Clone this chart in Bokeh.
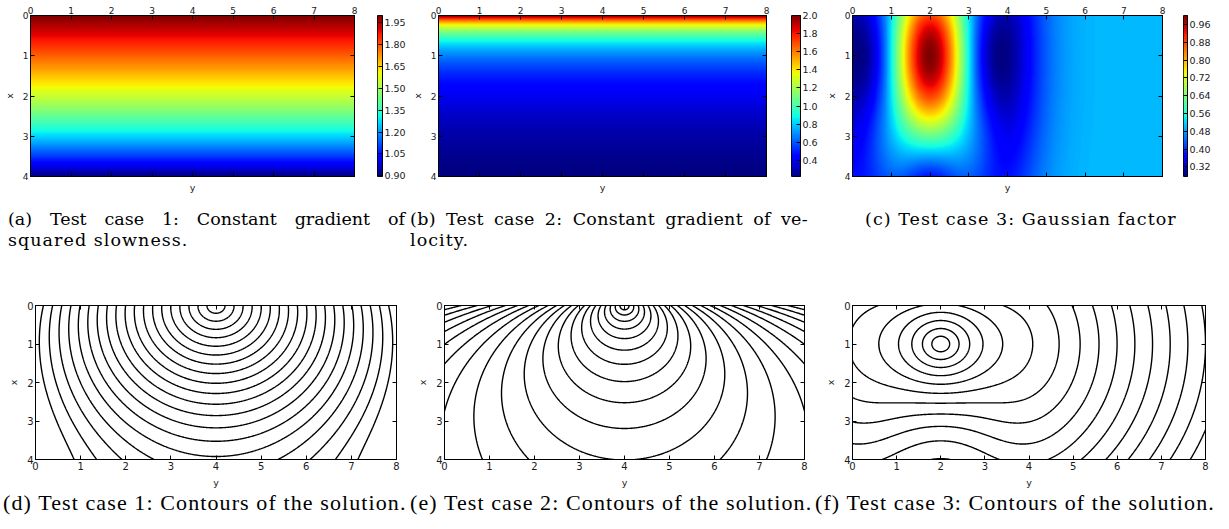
import numpy as np
from bokeh.plotting import figure
from bokeh.models import (Range1d, LinearAxis, FixedTicker, LinearColorMapper,
                          PrintfTickFormatter, Div, CustomLabelingPolicy)
from bokeh.layouts import column, row
from bokeh.embed import file_html
from bokeh.resources import INLINE

# ---------------- data ----------------
depth_extent = [0.0, 4.0]      # vertical axis, labelled "x"
lateral_extent = [0.0, 8.0]    # horizontal axis, labelled "y"
depth_ticks = [0, 1, 2, 3, 4]
lateral_ticks = [0, 1, 2, 3, 4, 5, 6, 7, 8]

# test case 1: constant gradient of squared slowness
src1 = [0.0, 4.0]
s0_1 = 2.0
grad1 = [-0.4, 0.0]
cb1_ticks = [0.90, 1.05, 1.20, 1.35, 1.50, 1.65, 1.80, 1.95]
levels1 = [0.4, 0.8, 1.2, 1.6, 2.0, 2.4, 2.8, 3.2, 3.6, 4.0, 4.4, 4.8, 5.2, 5.6,
           6.0, 6.4, 6.8, 7.2, 7.6]

# test case 2: constant gradient of velocity
src2 = [0.0, 4.0]
s0_2 = 2.0
grad2 = [1.0, 0.0]
cb2_ticks = [0.4, 0.6, 0.8, 1.0, 1.2, 1.4, 1.6, 1.8, 2.0]
levels2 = [0.2, 0.4, 0.6, 0.8, 1.0, 1.2, 1.4, 1.6, 1.8, 2.0, 2.2, 2.4, 2.6, 2.8,
           3.0, 3.2, 3.4, 3.6, 3.8, 4.0, 4.2]

# test case 3: Gaussian factor
src3 = [1.0, 2.0]
s0_3 = 0.5
gauss_amp = 1.0
gauss_var = [12.0, 2.3]        # variances along depth and lateral directions
cb3_ticks = [0.32, 0.40, 0.48, 0.56, 0.64, 0.72, 0.80, 0.88, 0.96]
levels3 = [0.2, 0.4, 0.6, 0.8, 1.0, 1.2, 1.4, 1.6, 1.8, 2.0, 2.2, 2.4, 2.6, 2.8,
           3.0, 3.2]

captions_top = ["(a) Test case 1: Constant gradient of", "squared slowness.",
                "(b) Test case 2: Constant gradient of ve-", "locity.",
                "(c) Test case 3: Gaussian factor"]
captions_bottom = ["(d) Test case 1: Contours of the solution.",
                   "(e) Test case 2: Contours of the solution.",
                   "(f) Test case 3: Contours of the solution."]

# ---------------- fields ----------------
xd = np.linspace(depth_extent[0], depth_extent[1], 241)
yl = np.linspace(lateral_extent[0], lateral_extent[1], 481)
X, Y = np.meshgrid(xd, yl, indexing="ij")

# case 1
gx, gy = grad1
dX, dY = X - src1[0], Y - src1[1]
S2 = s0_1 ** 2 + gx * dX + gy * dY
slow1 = np.sqrt(s0_1 ** 2 + 2 * (gx * dX + gy * dY))
G2 = gx ** 2 + gy ** 2
D2 = dX ** 2 + dY ** 2
sig2 = 2 * (S2 - np.sqrt(S2 ** 2 - G2 * D2)) / G2
T1 = S2 * np.sqrt(sig2) - G2 * sig2 ** 1.5 / 6

# case 2
gx, gy = grad2
dX, dY = X - src2[0], Y - src2[1]
vel2 = 1.0 / s0_2 + gx * dX + gy * dY
slow2 = 1.0 / vel2
G2 = gx ** 2 + gy ** 2
D2 = dX ** 2 + dY ** 2
T2 = np.arccosh(1 + slow2 * s0_2 * G2 * D2 / 2) / np.sqrt(G2)

# case 3
dX, dY = X - src3[0], Y - src3[1]
R = np.sqrt(dX ** 2 + dY ** 2)
g = np.exp(-dX ** 2 / gauss_var[0] - dY ** 2 / gauss_var[1])
tau = 1 + gauss_amp * g
T3 = s0_3 * R * tau
with np.errstate(invalid="ignore", divide="ignore"):
    ux = np.where(R > 0, dX / R, 0.0)
    uy = np.where(R > 0, dY / R, 0.0)
gTx = s0_3 * (tau * ux + R * gauss_amp * g * (-2 * dX / gauss_var[0]))
gTy = s0_3 * (tau * uy + R * gauss_amp * g * (-2 * dY / gauss_var[1]))
slow3 = np.sqrt(gTx ** 2 + gTy ** 2)
slow3 = np.where(R > 0, slow3, s0_3 * tau)


# ---------------- jet palette ----------------
def jet(n=256):
    t = np.linspace(0, 1, n)
    r = np.interp(t, [0, 0.35, 0.66, 0.89, 1], [0, 0, 1, 1, 0.5])
    gg = np.interp(t, [0, 0.125, 0.375, 0.64, 0.91, 1], [0, 0, 1, 1, 0, 0])
    b = np.interp(t, [0, 0.11, 0.34, 0.65, 1], [0.5, 1, 1, 0, 0])
    return ["#%02x%02x%02x" % (int(round(255 * a)), int(round(255 * c)), int(round(255 * d)))
            for a, c, d in zip(r, gg, b)]


JET = jet()
TICK_FONT = "DejaVu Sans"
TXT = "#1a1a1a"


def style_axis(ax, ticks, labels=True, size="9px", label_text=None, label_standoff=3):
    ax.ticker = FixedTicker(ticks=ticks)
    ax.major_tick_in = 4
    ax.major_tick_out = 0
    ax.minor_tick_in = 0
    ax.minor_tick_out = 0
    ax.axis_line_color = "black"
    ax.major_tick_line_color = "black"
    ax.major_label_text_font = TICK_FONT
    if labels:
        ax.major_label_text_font_size = size
        ax.major_label_standoff = 2
        ax.major_label_text_color = TXT
    else:
        # tick marks only: mirror the ticks on the opposite side, no labels drawn
        ax.major_label_text_font_size = "1px"
        ax.major_label_standoff = 0
        ax.major_label_policy = CustomLabelingPolicy(code="return []")
    if label_text is not None:
        ax.axis_label = label_text
        ax.axis_label_text_font = TICK_FONT
        ax.axis_label_text_font_size = "9.5px"
        ax.axis_label_text_font_style = "normal"
        ax.axis_label_text_color = TXT
        ax.axis_label_standoff = label_standoff


def make_fig(width, height, mbl, mbr, mbt, mbb, top_labels, size):
    p = figure(width=width, height=height,
               x_range=Range1d(*lateral_extent),
               y_range=Range1d(depth_extent[1], depth_extent[0]),
               output_backend="svg", toolbar_location=None,
               x_axis_location="above" if top_labels else "below",
               min_border_left=mbl, min_border_right=mbr, min_border_top=mbt,
               min_border_bottom=mbb, margin=(0, 0, 0, 0))
    p.grid.visible = False
    p.outline_line_color = "black"
    p.background_fill_color = "white"
    p.border_fill_color = "white"
    if top_labels:
        style_axis(p.xaxis[0], lateral_ticks, labels=True, size=size)
        bottom = LinearAxis()
        style_axis(bottom, lateral_ticks, labels=False, label_text="y", label_standoff=1)
        p.add_layout(bottom, "below")
    else:
        style_axis(p.xaxis[0], lateral_ticks, labels=True, size=size, label_text="y",
                   label_standoff=4)
        top = LinearAxis()
        style_axis(top, lateral_ticks, labels=False)
        p.add_layout(top, "above")
    style_axis(p.yaxis[0], depth_ticks, labels=True, size=size, label_text="x",
               label_standoff=5)
    right = LinearAxis()
    style_axis(right, depth_ticks, labels=False)
    p.add_layout(right, "right")
    return p


ROW1_H, ROW1_T, ROW1_B = 195, 15, 14
ROW2_H, ROW2_T, ROW2_B = 193, 8, 27


def heat_panel(field, width, mbl):
    p = make_fig(width, ROW1_H, mbl, 1, ROW1_T, ROW1_B, True, "9px")
    mapper = LinearColorMapper(palette=JET, low=float(field.min()), high=float(field.max()))
    p.image(image=[field], x=lateral_extent[0], y=depth_extent[0],
            dw=lateral_extent[1] - lateral_extent[0], dh=depth_extent[1] - depth_extent[0],
            color_mapper=mapper)
    return p, mapper


def colorbar_panel(mapper, ticks, fmt, width, mbl, mbr):
    lo, hi = mapper.low, mapper.high
    p = figure(width=width, height=ROW1_H, x_range=Range1d(0, 1), y_range=Range1d(lo, hi),
               output_backend="svg", toolbar_location=None,
               x_axis_location=None, y_axis_location="right",
               min_border_left=mbl, min_border_right=mbr, min_border_top=ROW1_T,
               min_border_bottom=ROW1_B, margin=(0, 0, 0, 0))
    p.grid.visible = False
    p.outline_line_color = "black"
    p.border_fill_color = "white"
    scale = np.linspace(lo, hi, 256).reshape(256, 1)
    p.image(image=[scale], x=0, y=lo, dw=1, dh=hi - lo, color_mapper=mapper)
    ax = p.yaxis[0]
    style_axis(ax, ticks, labels=True, size="9.5px")
    ax.formatter = PrintfTickFormatter(format=fmt)
    return p


def contour_panel(T, levels, width, mbl, mbr):
    p = make_fig(width, ROW2_H, mbl, mbr, ROW2_T, ROW2_B, False, "10px")
    p.contour(x=yl, y=xd, z=T, levels=levels, line_color="black", line_width=1.4)
    return p


pa, ma = heat_panel(slow1, 358, 27)
ca = colorbar_panel(ma, cb1_ticks, "%.2f", 50, 19, 22)
pb, mb = heat_panel(slow2, 362, 27)
cb = colorbar_panel(mb, cb2_ticks, "%.1f", 52, 21, 22)
pc, mc = heat_panel(slow3, 344, 20)
cc = colorbar_panel(mc, cb3_ticks, "%.2f", 47, 17, 21)

pd = contour_panel(T1, levels1, 414, 35, 18)
pe = contour_panel(T2, levels2, 408, 30, 18)
pf = contour_panel(T3, levels3, 391, 30, 8)

top_html = (
    '<div style="position:relative;width:1213px;height:102px;font-family:\'DejaVu Serif\';'
    'font-size:17.5px;line-height:21px;letter-spacing:1.05px;color:#000;white-space:nowrap">'
    '<div style="position:absolute;left:8px;top:14px;width:397px;text-align:justify;'
    'text-align-last:justify;letter-spacing:0px">%s</div>'
    '<div style="position:absolute;left:8px;top:35px">%s</div>'
    '<div style="position:absolute;left:410px;top:14px;width:398px;text-align:justify;'
    'text-align-last:justify;letter-spacing:0.3px">%s</div>'
    '<div style="position:absolute;left:410px;top:35px">%s</div>'
    '<div style="position:absolute;left:865px;top:14px">%s</div>'
    '</div>' % tuple(captions_top))
cap_top = Div(text=top_html, width=1213, height=102, margin=(0, 0, 0, 0))

bottom_html = (
    '<div style="position:relative;width:1213px;height:23px;font-family:\'Liberation Serif\';'
    'font-size:22px;line-height:22px;letter-spacing:1.1px;color:#000;white-space:nowrap">'
    '<div style="position:absolute;left:3px;top:2px">%s</div>'
    '<div style="position:absolute;left:410px;top:2px">%s</div>'
    '<div style="position:absolute;left:815px;top:2px">%s</div>'
    '</div>' % tuple(captions_bottom))
cap_bottom = Div(text=bottom_html, width=1213, height=23, margin=(0, 0, 0, 0))

layout = column(row(pa, ca, pb, cb, pc, cc, spacing=0), cap_top,
                row(pd, pe, pf, spacing=0), cap_bottom, spacing=0)

open("out.html", "w").write(file_html(layout, INLINE))
